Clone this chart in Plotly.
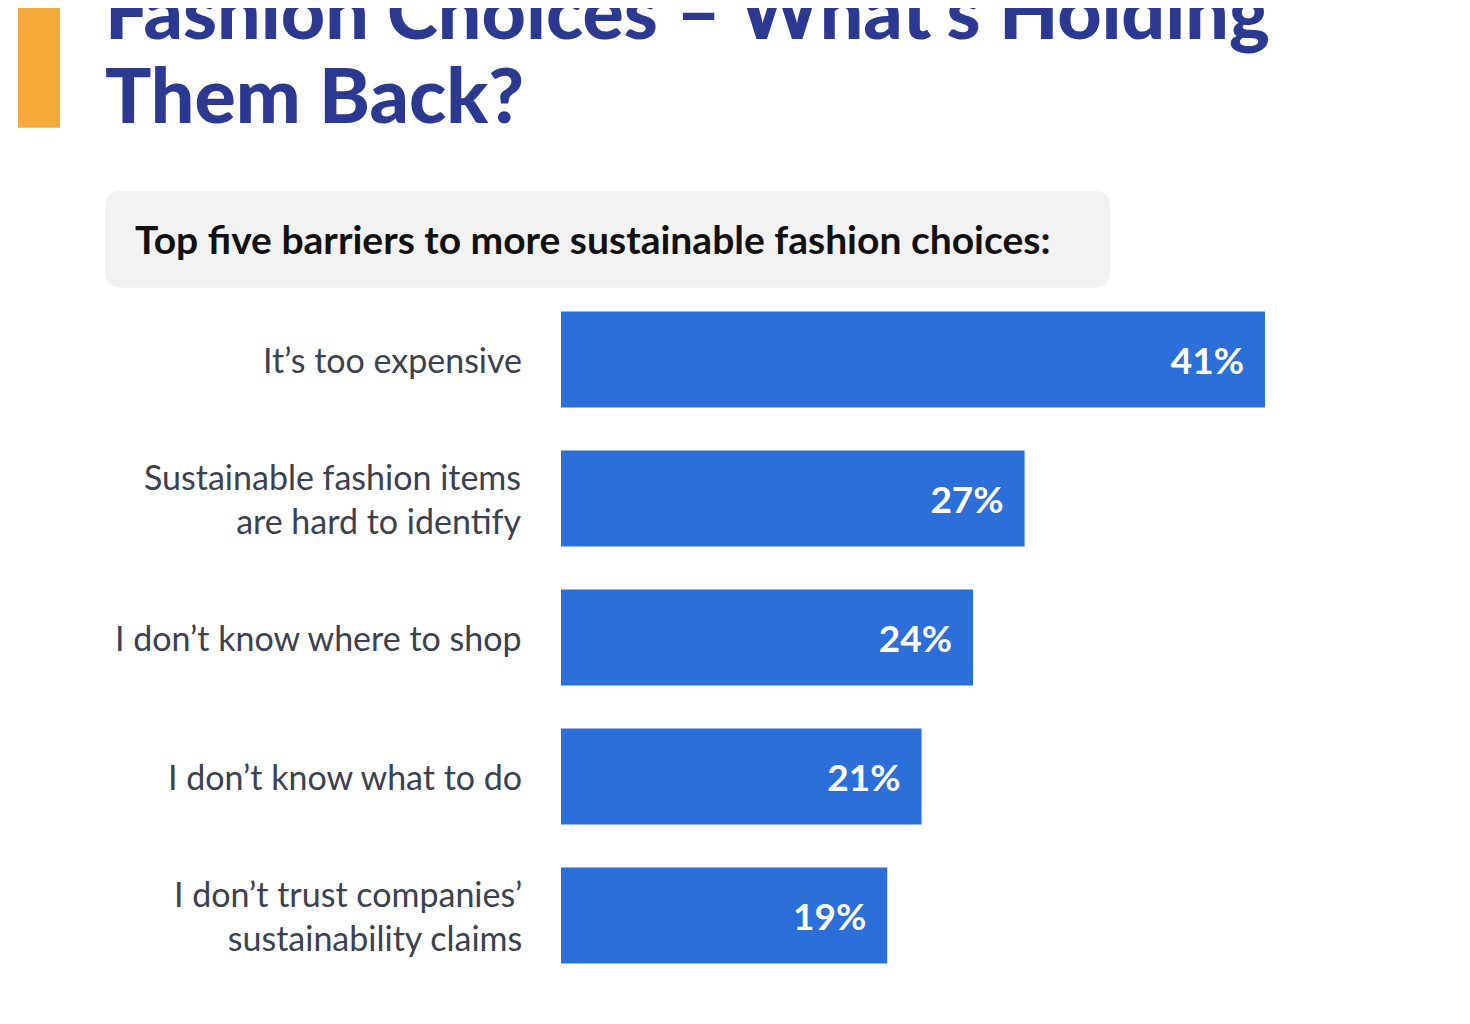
import plotly.graph_objects as go

categories = ["It’s too expensive", "Sustainable fashion items<br>are hard to identify",
              "I don’t know where to shop", "I don’t know what to do",
              "I don’t trust companies’<br>sustainability claims"]
values = [41, 27, 24, 21, 19]
labels = [f"{v}%\u00a0\u00a0" for v in values]

OFF = 8
L, R, T, B = 561 - OFF, 1265 - OFF, 289.5 - OFF, 985.5 - OFF
def px(x): return (x - OFF - L) / (R - L)
def py(y): return (B - (y - OFF)) / (B - T)

fig = go.Figure(go.Bar(
    y=list(range(len(categories))), x=values, orientation="h", width=0.69,
    marker=dict(color="#2D6FD9", line=dict(width=0)),
    text=labels, textposition="inside", insidetextanchor="end",
    textfont=dict(color="white", size=37, family="Lato", weight="bold"),
    cliponaxis=False, hoverinfo="skip"))

ann = []
for i, c in enumerate(categories):
    ann.append(dict(x=px(524), y=i, xref="paper", yref="y", text=c, showarrow=False,
                    xanchor="right", yanchor="middle", align="right",
                    font=dict(size=34, color="#3a4150", family="Lato")))
ann += [
    dict(x=px(103), y=py(8), xref="paper", yref="paper", text="Fashion Choices – What’s Holding",
         showarrow=False, xanchor="left", yanchor="middle",
         font=dict(size=77, color="#2B3990", family="Lato", weight=900)),
    dict(x=px(103), y=py(92), xref="paper", yref="paper", text="Them Back?",
         showarrow=False, xanchor="left", yanchor="middle",
         font=dict(size=77, color="#2B3990", family="Lato", weight=900)),
    dict(x=px(133), y=py(238), xref="paper", yref="paper",
         text="Top five barriers to more sustainable fashion choices:",
         showarrow=False, xanchor="left", yanchor="middle",
         font=dict(size=39, color="#111111", family="Lato", weight="bold")),
]
shapes = [
    dict(type="rect", xref="paper", yref="paper", x0=px(18), x1=px(60), y0=py(-20), y1=py(127),
         fillcolor="#F6A93B", line=dict(width=0), layer="below"),
    dict(type="path", xref="paper", yref="paper", layer="below",
         path=f"M {px(121)} {py(190)} L {px(1094)} {py(190)} Q {px(1110)} {py(190)} {px(1110)} {py(206)} "
              f"L {px(1110)} {py(271)} Q {px(1110)} {py(287)} {px(1094)} {py(287)} "
              f"L {px(121)} {py(287)} Q {px(105)} {py(287)} {px(105)} {py(271)} "
              f"L {px(105)} {py(206)} Q {px(105)} {py(190)} {px(121)} {py(190)} Z",
         fillcolor="#F2F2F2", line=dict(width=0)),
]
fig.update_layout(
    width=1470 - 2 * OFF, height=1024 - 2 * OFF,
    margin=dict(l=L, r=1470 - 2 * OFF - R, t=T, b=1024 - 2 * OFF - B),
    paper_bgcolor="white", plot_bgcolor="white", showlegend=False,
    xaxis=dict(range=[0, 41], visible=False, fixedrange=True),
    yaxis=dict(range=[4.5, -0.5], visible=False, fixedrange=True),
    annotations=ann, shapes=shapes, uniformtext=dict(mode=False))
fig.write_html("out.html", config={"displayModeBar": False})
